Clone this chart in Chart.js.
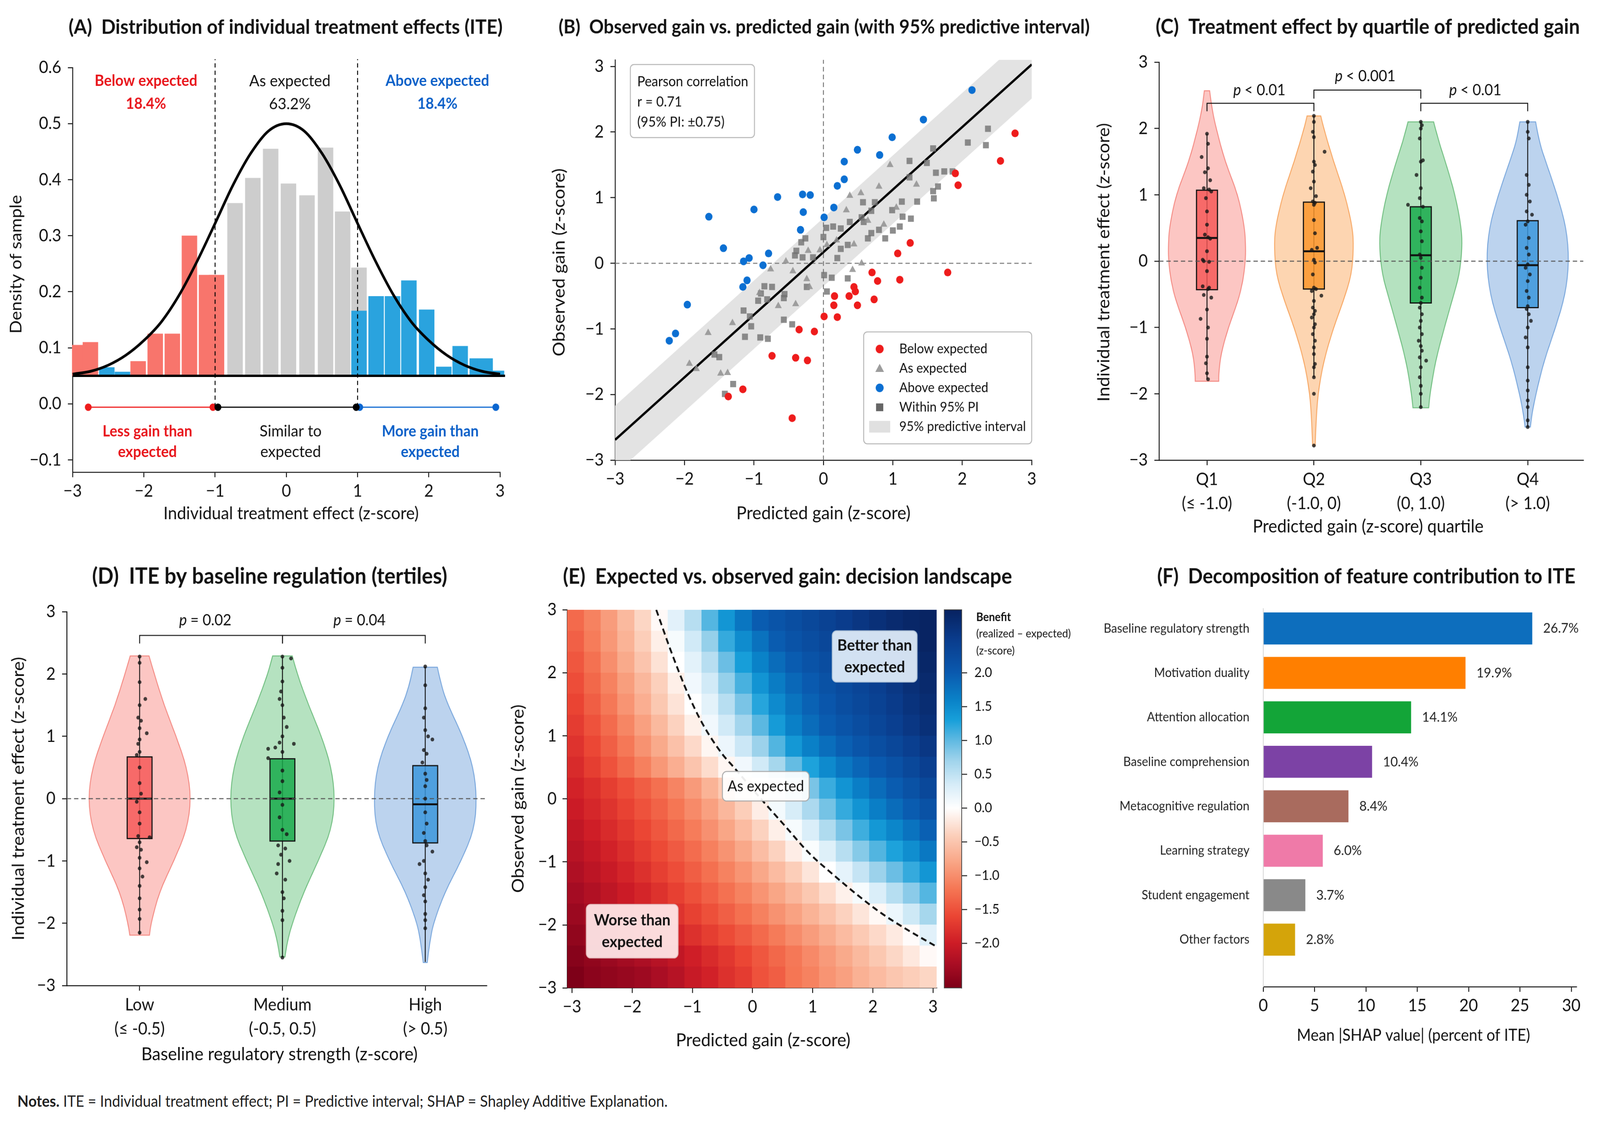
<!DOCTYPE html>
<html>
<head>
<meta charset="utf-8">
<title>Individual treatment effects</title>
<script src="https://cdn.jsdelivr.net/npm/chart.js@4.4.1/dist/chart.umd.min.js"></script>
<style>
  html, body { margin: 0; padding: 0; background: #fff; overflow: hidden; }
  #page { position: relative; width: 4409px; height: 2887px; overflow: hidden; background: #fff; transform-origin: 0 0; }
  canvas { position: absolute; }
  #notes { position: absolute; left: 48px; font-family: Lato, 'Noto Sans', sans-serif; color: #222; white-space: nowrap; }
</style>
</head>
<body>
<div id="page">
  <canvas id="chartA"></canvas>
  <canvas id="chartB"></canvas>
  <canvas id="chartC"></canvas>
  <canvas id="chartD"></canvas>
  <canvas id="chartE"></canvas>
  <canvas id="chartBar"></canvas>
  <canvas id="chartF"></canvas>
  <div id="notes"><b>Notes.</b> ITE = Individual treatment effect; PI = Predictive interval; SHAP = Shapley Additive Explanation.</div>
</div>
<script>
// ---------- (A) distribution of ITE ----------
const iteTicks = [-3, -2, -1, 0, 1, 2, 3];
const densityTicks = [-0.1, 0, 0.1, 0.2, 0.3, 0.4, 0.5, 0.6];
const histBase = 0.05;
const redBinX = [-2.90, -2.75, -2.08, -1.84, -1.60, -1.36, -1.12, -0.98];
const redBinTop = [0.105, 0.110, 0.076, 0.125, 0.125, 0.300, 0.230, 0.230];
const grayBinX = [-0.72, -0.47, -0.22, 0.03, 0.29, 0.55, 0.79, 1.02];
const grayBinTop = [0.358, 0.403, 0.455, 0.393, 0.372, 0.457, 0.343, 0.243];
const blueBinX = [-2.52, -2.30, 1.02, 1.26, 1.49, 1.72, 1.97, 2.21, 2.44, 2.68, 2.79, 2.95];
const blueBinTop = [0.065, 0.057, 0.166, 0.192, 0.192, 0.220, 0.168, 0.066, 0.103, 0.081, 0.081, 0.059];
const normalX = [-3, -2.75, -2.5, -2.25, -2, -1.75, -1.5, -1.25, -1, -0.75, -0.5, -0.25, 0, 0.25, 0.5, 0.75, 1, 1.25, 1.5, 1.75, 2, 2.25, 2.5, 2.75, 3, 3.07];
const normalY = [0.053, 0.058, 0.069, 0.087, 0.113, 0.147, 0.195, 0.255, 0.322, 0.390, 0.447, 0.487, 0.500, 0.487, 0.447, 0.390, 0.322, 0.255, 0.195, 0.147, 0.113, 0.087, 0.069, 0.058, 0.053, 0.052];
const cutoffs = [-1, 1];
const rangeRowY = -0.006;
const lessRange = [-2.78, -1.03];
const similarRange = [-0.96, 0.98];
const moreRange = [1.03, 2.94];

// ---------- (B) observed vs predicted ----------
const gainTicks = [-3, -2, -1, 0, 1, 2, 3];
const belowExpected = [[2.76, 1.98], [2.55, 1.56], [1.94, 1.19], [1.90, 1.37], [1.25, 0.31], [1.07, 0.15], [1.79, -0.14], [0.70, -0.14], [0.78, -0.27], [1.10, -0.25], [0.44, -0.36], [0.46, -0.43], [0.37, -0.50], [0.16, -0.50], [0.73, -0.55], [0.49, -0.64], [0.15, -0.64], [0.01, -0.81], [0.20, -0.82], [-0.35, -1.01], [-0.13, -1.04], [-0.74, -1.41], [-0.40, -1.44], [-0.23, -1.48], [-1.16, -1.92], [-1.37, -2.03], [-0.45, -2.36]];
const aboveExpected = [[2.14, 2.64], [1.44, 2.19], [0.99, 1.92], [0.49, 1.73], [0.81, 1.65], [0.30, 1.55], [0.30, 1.28], [0.20, 1.18], [0.15, 0.85], [0.01, 0.70], [-0.66, 1.01], [-0.30, 1.05], [-0.19, 1.04], [-0.29, 0.78], [-1.00, 0.82], [-1.65, 0.71], [-0.33, 0.51], [-0.79, 0.15], [-1.44, 0.23], [-1.07, 0.08], [-1.15, 0.03], [-0.87, -0.03], [-1.10, -0.26], [-1.16, -0.36], [-1.96, -0.63], [-2.13, -1.07], [-2.22, -1.18]];
const asExpected = [[0.96, 1.50], [0.80, 1.17], [0.38, 1.03], [0.54, 1.07], [0.33, 0.81], [1.34, 1.20], [0.87, 0.59], [0.44, 0.29], [0.55, 0.00], [0.42, -0.10], [0.19, 0.35], [0.05, 0.28], [-0.22, 0.19], [-0.54, 0.03], [-0.76, -0.09], [-0.44, -0.12], [-0.24, -0.24], [-0.20, -0.36], [-0.92, -0.45], [-0.65, -0.65], [-0.40, -0.62], [-1.31, -0.91], [-1.66, -1.06], [-1.93, -1.53], [-1.83, -1.61], [-1.48, -1.68], [-1.38, -1.67], [0.64, 0.65], [1.05, 0.85], [-0.05, 0.20]];
const withinPI = [[2.37, 2.05], [2.08, 1.84], [2.34, 1.80], [1.58, 1.75], [1.24, 1.56], [1.49, 1.53], [1.62, 1.38], [1.74, 1.40], [1.86, 1.40], [1.65, 1.17], [1.58, 1.10], [1.59, 0.99], [1.35, 0.94], [1.13, 0.94], [1.24, 1.31], [0.57, 0.93], [0.74, 0.93], [0.99, 0.81], [1.14, 0.71], [1.26, 0.68], [1.10, 0.56], [0.69, 0.80], [0.55, 0.70], [0.58, 0.63], [0.69, 0.46], [0.64, 0.38], [0.89, 0.38], [1.00, 0.50], [0.80, 0.51], [0.14, 0.56], [0.04, 0.54], [0.25, 0.53], [0.38, 0.63], [0.00, 0.40], [0.25, 0.22], [0.35, 0.28], [0.20, 0.08], [0.01, -0.18], [0.12, -0.22], [0.35, -0.23], [0.05, -0.43], [-0.26, 0.38], [-0.32, 0.32], [-0.39, 0.19], [-0.15, 0.09], [-0.41, 0.12], [-0.30, 0.09], [-0.24, -0.36], [-0.57, -0.53], [-0.74, -0.36], [-0.85, -0.35], [-0.90, -0.46], [-0.94, -0.57], [-0.81, -0.55], [-0.56, -0.47], [-0.57, -0.86], [-0.45, -0.93], [-1.15, -0.72], [-1.06, -0.81], [-1.04, -0.96], [-1.13, -1.12], [-0.91, -1.13], [-0.80, -1.15], [-1.57, -1.39], [-1.50, -1.43], [-1.42, -1.99], [-1.30, -1.84]];
const fitX = [-3, 3];
const fitY = [-2.69, 3.03];
const piUpper = [-2.17, 3.55];
const piLower = [-3.21, 2.51];
const legendLabelsB = ['Below expected', 'As expected', 'Above expected', 'Within 95% PI', '95% predictive interval'];

// ---------- (C) quartiles of predicted gain ----------
const quartileLabels = [['Q1', '(\u2264 -1.0)'], ['Q2', '(-1.0, 0)'], ['Q3', '(0, 1.0)'], ['Q4', '(> 1.0)']];
const quartileViolinY = [
  [2.57, 2.3, 2.0, 1.5, 1.0, 0.5, 0.2, 0.0, -0.3, -0.6, -1.0, -1.4, -1.7, -1.81],
  [2.19, 2.0, 1.5, 1.0, 0.5, 0.2, -0.2, -0.6, -1.0, -1.5, -2.0, -2.5, -2.78],
  [2.10, 1.8, 1.5, 1.0, 0.5, 0.2, -0.2, -0.6, -1.0, -1.5, -2.0, -2.21],
  [2.10, 1.8, 1.5, 1.0, 0.5, 0.0, -0.5, -1.0, -1.5, -2.0, -2.3, -2.5]
];
const quartileViolinW = [
  [0.025, 0.046, 0.086, 0.169, 0.291, 0.353, 0.362, 0.359, 0.337, 0.291, 0.199, 0.13, 0.11, 0.11],
  [0.064, 0.092, 0.184, 0.291, 0.362, 0.371, 0.353, 0.276, 0.184, 0.092, 0.037, 0.018, 0.012],
  [0.12, 0.169, 0.23, 0.322, 0.38, 0.387, 0.362, 0.291, 0.221, 0.138, 0.086, 0.074],
  [0.074, 0.107, 0.169, 0.276, 0.362, 0.387, 0.353, 0.261, 0.153, 0.077, 0.04, 0.025]
];
const quartileQ1 = [-0.43, -0.42, -0.63, -0.70];
const quartileMedian = [0.35, 0.15, 0.09, -0.06];
const quartileQ3 = [1.07, 0.89, 0.82, 0.61];
const quartileWhiskerLo = [-1.78, -1.75, -2.2, -2.5];
const quartileWhiskerHi = [1.92, 2.19, 2.1, 2.1];
const quartilePoints = [
  [[0, 1.92], [0.01, 1.77], [-0.05, 1.57], [0.01, 1.40], [-0.02, 1.34], [0.03, 1.22], [-0.03, 1.10], [0.02, 1.08], [0.04, 1.05], [-0.01, 0.95], [0, 0.75], [0, 0.55], [-0.02, 0.40], [0.01, 0.36], [0.03, 0.34], [0, 0.15], [-0.04, 0.02], [-0.03, 0], [0.02, -0.01], [0, -0.15], [-0.04, -0.38], [0.02, -0.40], [0.01, -0.42], [-0.03, -0.51], [0.04, -0.55], [0, -0.73], [-0.06, -0.87], [0.01, -1.00], [0, -1.17], [0, -1.44], [-0.01, -1.54], [0, -1.69], [0.01, -1.78]],
  [[0, 2.19], [0, 2.1], [-0.01, 1.95], [0, 1.87], [0.1, 1.65], [0, 1.5], [0.01, 1.45], [-0.01, 1.35], [0, 1.2], [-0.03, 1.1], [0.02, 0.98], [-0.01, 0.9], [0.01, 0.88], [0, 0.85], [0, 0.62], [0.01, 0.42], [0.03, 0.2], [-0.02, 0.17], [0, 0.02], [0.01, -0.02], [-0.01, -0.2], [0, -0.4], [0.02, -0.42], [-0.02, -0.45], [0.07, -0.52], [0, -0.6], [-0.01, -0.7], [0.01, -0.75], [0, -0.8], [-0.02, -0.85], [0.01, -0.95], [0, -1.0], [-0.01, -1.1], [0.01, -1.2], [0, -1.3], [0, -1.4], [0.01, -1.55], [0, -1.6], [0, -1.75], [0, -2.0], [0, -2.78]],
  [[0, 2.1], [0.01, 2.05], [0, 2.0], [-0.01, 1.85], [0.02, 1.52], [0, 1.5], [-0.04, 1.3], [0, 1.1], [-0.01, 0.95], [-0.12, 0.85], [0.02, 0.82], [-0.01, 0.65], [0.01, 0.6], [0, 0.45], [0.01, 0.3], [-0.01, 0.1], [0, 0.05], [0.01, -0.1], [0, -0.25], [-0.01, -0.4], [0.01, -0.55], [0, -0.63], [-0.01, -0.7], [0.01, -0.8], [0, -0.9], [-0.01, -1.0], [0.01, -1.1], [-0.02, -1.2], [0, -1.28], [0.01, -1.35], [-0.01, -1.45], [0.05, -1.5], [0, -1.6], [-0.01, -1.75], [0, -1.88], [0, -2.0], [0, -2.2]],
  [[0, 2.1], [0, 1.95], [0.01, 1.85], [-0.01, 1.3], [0.01, 1.15], [-0.01, 1.0], [0.02, 0.9], [-0.01, 0.75], [0.04, 0.7], [0, 0.6], [-0.02, 0.55], [0.01, 0.35], [-0.01, 0.2], [0.01, 0.1], [0, -0.05], [-0.02, -0.1], [0.02, -0.2], [0, -0.3], [-0.01, -0.45], [0.01, -0.55], [0, -0.68], [-0.01, -0.72], [0.01, -0.8], [0.03, -0.9], [0, -1.0], [-0.02, -1.15], [0, -1.3], [0, -1.6], [0, -1.8], [0, -1.95], [0, -2.1], [0, -2.2], [0, -2.4], [0, -2.5]]
];
const quartileTests = [
  { a: 0, b: 1, y: 2.38, drop: 0.12, label: '< 0.01', tx: 0.49, ty: 2.58 },
  { a: 1, b: 2, y: 2.58, drop: 0.13, label: '< 0.001', tx: 1.48, ty: 2.79 },
  { a: 2, b: 3, y: 2.38, drop: 0.12, label: '< 0.01', tx: 2.51, ty: 2.58 }
];
const iteTicksY = [-3, -2, -1, 0, 1, 2, 3];

// ---------- (D) tertiles of baseline regulation ----------
const tertileLabels = [['Low', '(\u2264 -0.5)'], ['Medium', '(-0.5, 0.5)'], ['High', '(> 0.5)']];
const tertileViolinY = [
  [2.29, 2.0, 1.5, 1.0, 0.5, 0.0, -0.5, -1.0, -1.5, -2.0, -2.19],
  [2.29, 2.0, 1.5, 1.0, 0.5, 0.0, -0.5, -1.0, -1.5, -2.0, -2.3, -2.54],
  [2.11, 1.8, 1.5, 1.0, 0.5, 0.0, -0.5, -1.0, -1.5, -2.0, -2.3, -2.63]
];
const tertileViolinW = [
  [0.066, 0.103, 0.171, 0.256, 0.331, 0.361, 0.331, 0.24, 0.137, 0.08, 0.069],
  [0.069, 0.103, 0.183, 0.274, 0.343, 0.368, 0.343, 0.251, 0.149, 0.069, 0.034, 0.018],
  [0.085, 0.114, 0.16, 0.263, 0.338, 0.361, 0.343, 0.251, 0.137, 0.057, 0.032, 0.014]
];
const tertileQ1 = [-0.64, -0.68, -0.71];
const tertileMedian = [0.0, 0.0, -0.09];
const tertileQ3 = [0.67, 0.64, 0.53];
const tertileWhiskerLo = [-2.18, -2.55, -2.62];
const tertileWhiskerHi = [2.28, 2.28, 2.12];
const tertilePoints = [
  [[0, 2.28], [0, 2.18], [0, 1.87], [0.04, 1.6], [0, 1.5], [-0.01, 1.3], [0.01, 1.25], [0, 1.13], [0.05, 1.05], [0, 0.95], [-0.01, 0.88], [0, 0.75], [-0.02, 0.7], [0, 0.5], [0, 0.25], [0.01, 0.08], [-0.02, -0.05], [0, -0.22], [0, -0.4], [-0.01, -0.6], [0.07, -0.62], [0, -0.7], [-0.02, -0.78], [0.01, -0.82], [0, -0.95], [0.05, -1.02], [0, -1.12], [0.02, -1.25], [0, -1.4], [0, -1.6], [0, -1.78], [0, -1.93], [0, -2.15]],
  [[0, 2.28], [0.06, 2.25], [0, 2.1], [0, 1.88], [-0.01, 1.72], [-0.02, 1.6], [0, 1.5], [0.01, 1.3], [0.03, 1.15], [0, 1.0], [-0.02, 0.9], [0.08, 0.88], [-0.05, 0.82], [-0.1, 0.8], [0, 0.75], [-0.1, 0.65], [0, 0.45], [0, 0.28], [-0.02, 0.1], [0, -0.1], [-0.02, -0.3], [0, -0.5], [0.03, -0.57], [-0.03, -0.75], [0.02, -0.8], [-0.01, -0.9], [0.05, -1.0], [-0.03, -1.05], [-0.04, -1.2], [0.02, -1.3], [0, -1.5], [0.01, -1.6], [0, -1.8], [0, -1.95], [0, -2.55]],
  [[0, 2.12], [0, 1.82], [0, 1.45], [-0.01, 1.3], [0, 1.1], [0.02, 1.0], [0.05, 0.95], [-0.01, 0.78], [0.01, 0.72], [-0.02, 0.58], [0, 0.4], [0.01, 0.3], [0, 0.2], [0, 0.0], [0, -0.22], [0.01, -0.4], [-0.01, -0.55], [0, -0.68], [0.01, -0.75], [0.05, -0.85], [-0.01, -1.0], [-0.04, -1.05], [0, -1.2], [0.02, -1.3], [0, -1.42], [-0.01, -1.55], [0, -1.65], [0, -1.85], [0, -1.95], [0, -2.08]]
];
const tertileTests = [
  { a: 0, b: 1, y: 2.62, drop: 0.13, label: '= 0.02', tx: 0.46, ty: 2.86 },
  { a: 1, b: 2, y: 2.62, drop: 0.13, label: '= 0.04', tx: 1.54, ty: 2.86 }
];

// ---------- (E) decision landscape ----------
const heatXRange = [-3.08, 3.06];
const heatYRange = [-3, 3];
// rows from top (observed gain = 3) to bottom (observed gain = -3), columns left to right
const benefitGrid = [
  [-1.30, -1.10, -0.88, -0.62, -0.35, -0.05, 0.25, 0.55, 1.05, 1.40, 1.72, 1.98, 2.10, 2.20, 2.30, 2.40, 2.50, 2.60, 2.70, 2.78, 2.85, 2.90],
  [-1.38, -1.15, -0.92, -0.68, -0.42, -0.14, 0.08, 0.38, 0.75, 1.18, 1.50, 1.76, 1.98, 2.12, 2.22, 2.32, 2.42, 2.52, 2.62, 2.72, 2.82, 2.90],
  [-1.46, -1.24, -1.00, -0.76, -0.51, -0.25, 0.00, 0.24, 0.55, 0.95, 1.32, 1.60, 1.82, 1.98, 2.12, 2.22, 2.32, 2.42, 2.52, 2.62, 2.75, 2.85],
  [-1.54, -1.32, -1.10, -0.87, -0.64, -0.40, -0.14, 0.12, 0.38, 0.75, 1.10, 1.42, 1.66, 1.86, 2.00, 2.14, 2.25, 2.35, 2.45, 2.57, 2.70, 2.80],
  [-1.62, -1.40, -1.18, -0.95, -0.72, -0.48, -0.24, 0.00, 0.24, 0.55, 0.88, 1.24, 1.52, 1.74, 1.92, 2.06, 2.20, 2.30, 2.40, 2.52, 2.65, 2.75],
  [-1.70, -1.50, -1.29, -1.07, -0.85, -0.62, -0.38, -0.13, 0.12, 0.38, 0.68, 1.02, 1.35, 1.62, 1.82, 1.98, 2.10, 2.22, 2.33, 2.45, 2.58, 2.70],
  [-1.78, -1.59, -1.39, -1.18, -0.97, -0.76, -0.54, -0.32, -0.08, 0.16, 0.42, 0.72, 1.06, 1.38, 1.62, 1.80, 1.95, 2.08, 2.20, 2.32, 2.45, 2.58],
  [-1.86, -1.68, -1.50, -1.31, -1.12, -0.92, -0.72, -0.51, -0.30, -0.08, 0.12, 0.38, 0.66, 0.98, 1.28, 1.52, 1.72, 1.88, 2.02, 2.15, 2.30, 2.45],
  [-1.94, -1.82, -1.68, -1.54, -1.40, -1.25, -1.08, -0.90, -0.68, -0.45, -0.18, 0.06, 0.30, 0.58, 0.88, 1.16, 1.42, 1.64, 1.82, 1.98, 2.14, 2.30],
  [-2.02, -1.90, -1.77, -1.64, -1.50, -1.36, -1.20, -1.03, -0.85, -0.64, -0.42, -0.15, 0.10, 0.34, 0.62, 0.90, 1.18, 1.42, 1.64, 1.82, 1.98, 2.14],
  [-2.10, -1.98, -1.86, -1.73, -1.60, -1.46, -1.31, -1.15, -0.98, -0.80, -0.60, -0.38, -0.14, 0.08, 0.32, 0.60, 0.88, 1.14, 1.38, 1.56, 1.75, 1.94],
  [-2.18, -2.07, -1.95, -1.83, -1.70, -1.57, -1.43, -1.28, -1.12, -0.96, -0.78, -0.58, -0.38, -0.15, 0.04, 0.28, 0.55, 0.82, 1.06, 1.28, 1.48, 1.70],
  [-2.26, -2.15, -2.04, -1.92, -1.80, -1.67, -1.54, -1.40, -1.25, -1.10, -0.95, -0.78, -0.60, -0.42, -0.22, 0.00, 0.22, 0.46, 0.72, 0.95, 1.18, 1.40],
  [-2.34, -2.24, -2.13, -2.02, -1.91, -1.79, -1.66, -1.52, -1.38, -1.24, -1.10, -0.95, -0.80, -0.64, -0.48, -0.30, -0.12, 0.08, 0.32, 0.56, 0.80, 1.05],
  [-2.42, -2.33, -2.23, -2.13, -2.02, -1.90, -1.78, -1.65, -1.52, -1.39, -1.25, -1.11, -0.97, -0.83, -0.68, -0.53, -0.38, -0.22, -0.06, 0.16, 0.40, 0.66],
  [-2.50, -2.42, -2.33, -2.24, -2.14, -2.03, -1.92, -1.80, -1.68, -1.56, -1.43, -1.30, -1.16, -1.02, -0.88, -0.74, -0.60, -0.46, -0.32, -0.18, -0.03, 0.26],
  [-2.58, -2.50, -2.43, -2.36, -2.28, -2.20, -2.10, -1.98, -1.86, -1.74, -1.60, -1.46, -1.32, -1.18, -1.04, -0.90, -0.76, -0.62, -0.48, -0.34, -0.20, -0.05],
  [-2.65, -2.55, -2.50, -2.45, -2.40, -2.30, -2.20, -2.05, -1.95, -1.80, -1.70, -1.50, -1.40, -1.20, -1.10, -0.95, -0.85, -0.70, -0.60, -0.50, -0.42, -0.35]
];
const expectedCurveX = [-1.60, -1.35, -1.07, -0.83, -0.51, -0.31, 0.14, 0.54, 0.94, 1.35, 1.75, 2.15, 2.56, 3.05];
const expectedCurveY = [3.0, 2.33, 1.66, 1.19, 0.72, 0.50, 0.0, -0.43, -0.86, -1.21, -1.53, -1.82, -2.07, -2.34];
const benefitRange = [-2.66, 2.93];
const benefitTicks = [-2, -1.5, -1, -0.5, 0, 0.5, 1, 1.5, 2];
const benefitStops = [
  [-2.66, [125, 0, 24]], [-2.3, [170, 14, 36]], [-2.0, [205, 28, 38]], [-1.6, [235, 70, 52]],
  [-1.2, [245, 118, 84]], [-0.8, [249, 166, 134]], [-0.4, [252, 208, 188]], [0.0, [255, 255, 255]],
  [0.35, [214, 236, 248]], [0.7, [160, 212, 236]], [1.0, [96, 186, 226]], [1.3, [24, 160, 218]],
  [1.6, [10, 130, 200]], [2.0, [10, 90, 175]], [2.5, [10, 60, 140]], [2.93, [8, 34, 96]]
];

// ---------- (F) SHAP decomposition ----------
const featureNames = ['Baseline regulatory strength', 'Motivation duality', 'Attention allocation', 'Baseline comprehension', 'Metacognitive regulation', 'Learning strategy', 'Student engagement', 'Other factors'];
const shapValues = [26.2, 19.7, 14.4, 10.6, 8.3, 5.8, 4.1, 3.1];
const shapLabels = ['26.7%', '19.9%', '14.1%', '10.4%', '8.4%', '6.0%', '3.7%', '2.8%'];
const shapTicks = [0, 5, 10, 15, 20, 25, 30];

// ---------- styling & layout ----------
const FONT = "Lato, 'Noto Sans', sans-serif";
const INK = '#111';
const RED_TXT = '#e8151b';
const BLUE_TXT = '#0a5fc8';
const EDGE = 4;
const MINUS = '\u2212';
const fmt = (v, d) => (v < -1e-9 ? MINUS : '') + Math.abs(v).toFixed(d);
const PAGE_W = 4409, PAGE_H = 2887;

// stretch the layout over the viewport the browser really gives us
const sx = window.innerWidth / PAGE_W, sy = window.innerHeight / PAGE_H;
if (sx > 0 && sy > 0 && (Math.abs(sx - 1) > 0.001 || Math.abs(sy - 1) > 0.001)) {
  document.getElementById('page').style.transform = `scale(${sx}, ${sy})`;
}

// font sizes chosen so that strings take the width they take in the figure
const probe = document.createElement('canvas').getContext('2d');
function fitPx(text, target, weight) {
  probe.font = `normal ${weight || 'normal'} 100px ${FONT}`;
  return 100 * target / probe.measureText(text).width;
}
const TITLES = {
  A: ['(A)  Distribution of individual treatment effects (ITE)', 1196],
  B: ['(B)  Observed gain vs. predicted gain (with 95% predictive interval)', 1464],
  C: ['(C)  Treatment effect by quartile of predicted gain', 1169],
  D: ['(D)  ITE by baseline regulation (tertiles)', 979],
  E: ['(E)  Expected vs. observed gain: decision landscape', 1238],
  F: ['(F)  Decomposition of feature contribution to ITE', 1153]
};
const XLABELS = {
  A: ['Individual treatment effect (z-score)', 704],
  B: ['Predicted gain (z-score)', 480],
  C: ['Predicted gain (z-score) quartile', 636],
  D: ['Baseline regulatory strength (z-score)', 762],
  E: ['Predicted gain (z-score)', 481],
  F: ['Mean |SHAP value| (percent of ITE)', 643]
};
const titlePx = {}, labelPx = {};
Object.keys(TITLES).forEach(k => {
  titlePx[k] = fitPx(TITLES[k][0], TITLES[k][1], 'bold');
  labelPx[k] = fitPx(XLABELS[k][0], XLABELS[k][1]);
});
const PX = {
  tick: fitPx('(-1.0, 0)', 149),
  annotBold: fitPx('Below expected', 283, 'bold'),
  annot: fitPx('As expected', 224),
  legend: fitPx('Below expected', 243),
  pearson: fitPx('Pearson correlation', 306),
  pval: fitPx('p < 0.01', 146),
  feature: fitPx('Baseline regulatory strength', 402),
  value: fitPx('26.7%', 98),
  boxBold: fitPx('Better than', 206, 'bold'),
  box: fitPx('As expected', 211),
  cbTick: fitPx('\u22120.5', 69),
  cbTitle: fitPx('(realized \u2013 expected)', 261),
  notes: fitPx('Notes. ITE = Individual treatment effect; PI = Predictive interval; SHAP = Shapley Additive Explanation.', 1794)
};
const notesEl = document.getElementById('notes');
notesEl.style.fontSize = PX.notes + 'px';
notesEl.style.lineHeight = (PX.notes * 1.3) + 'px';
notesEl.style.top = (2834 - PX.notes * 0.65) + 'px';

// canvas rect [x, y, w, h] and plot area [left, top, right, bottom], page pixels
const RECT_A = [0, 0, 1450, 1400], AREA_A = [200, 174, 1378, 1215];
const RECT_B = [1420, 0, 1700, 1400], AREA_B = [1695, 154, 2843, 1184];
const RECT_C = [2990, 0, 1419, 1400], AREA_C = [3194, 160, 4363, 1184];
const RECT_D = [0, 1400, 1450, 1400], AREA_D = [184, 1574, 1341, 2536];
const RECT_E = [1380, 1400, 1440, 1400], AREA_E = [1563, 1569, 2581, 2542];
const RECT_CB = [2570, 1400, 440, 1400], AREA_CB = [2602, 1569, 2650, 2542];
const RECT_F = [3000, 1400, 1409, 1400], AREA_F = [3481, 1566, 4344, 2539];

Chart.defaults.font.family = FONT;
Chart.defaults.color = INK;

function place(id, rect) {
  const c = document.getElementById(id);
  c.width = rect[2];
  c.height = rect[3];
  c.style.left = rect[0] + 'px';
  c.style.top = rect[1] + 'px';
  return c;
}

// options whose plot area lands on `area`; axis boxes are sized so their labels are not clipped
function framed(rect, area, scales, yRight) {
  const [x, y, w, h] = rect, [L, T, R, B] = area;
  const padding = yRight
    ? { left: L - x, top: T - y, right: EDGE, bottom: y + h - B }
    : { left: EDGE, top: T - y, right: x + w - R, bottom: EDGE };
  const yWidth = yRight ? x + w - R - EDGE : L - x - EDGE;
  const xHeight = y + h - B - EDGE;
  Object.values(scales).forEach(s => {
    if (s.display === false) return;
    s.afterFit = sc => { if (sc.isHorizontal()) sc.height = xHeight; else sc.width = yWidth; };
  });
  return {
    responsive: false, animation: false, devicePixelRatio: 1, events: [],
    layout: { padding, autoPadding: false },
    plugins: { legend: { display: false }, tooltip: { enabled: false }, title: { display: false } },
    scales
  };
}

function axis(min, max, values, label, extra = {}) {
  return Object.assign({
    type: 'linear', min, max, offset: false,
    afterBuildTicks: s => { s.ticks = values.map(v => ({ value: v })); },
    grid: { display: true, offset: false, drawOnChartArea: false, drawTicks: true, tickLength: 13, color: INK, lineWidth: 2.5 },
    border: { display: true, color: INK, width: 2.5 },
    ticks: { font: { size: PX.tick }, color: INK, padding: 9, maxRotation: 0, autoSkip: false, callback: label }
  }, extra);
}

function txt(ctx, s, x, y, o = {}) {
  ctx.save();
  ctx.font = `${o.style || 'normal'} ${o.weight || 'normal'} ${o.size || 40}px ${FONT}`;
  ctx.fillStyle = o.color || INK;
  ctx.textAlign = o.align || 'center';
  ctx.textBaseline = 'middle';
  ctx.translate(x, y);
  if (o.rot) ctx.rotate(o.rot);
  ctx.fillText(s, 0, 0);
  ctx.restore();
}

// "p < 0.01" with an italic p, centred on x
function pText(ctx, rest, x, y, size) {
  ctx.save();
  ctx.font = `italic normal ${size}px ${FONT}`;
  const wp = ctx.measureText('p ').width;
  ctx.font = `normal normal ${size}px ${FONT}`;
  const wr = ctx.measureText(rest).width;
  const x0 = x - (wp + wr) / 2;
  txt(ctx, 'p', x0, y, { style: 'italic', size, align: 'left' });
  txt(ctx, rest, x0 + wp, y, { size, align: 'left' });
  ctx.restore();
}

function roundBox(ctx, x0, y0, x1, y1, r, fill, stroke, lw) {
  ctx.save();
  ctx.beginPath();
  ctx.roundRect(x0, y0, x1 - x0, y1 - y0, r);
  ctx.fillStyle = fill;
  ctx.fill();
  ctx.strokeStyle = stroke;
  ctx.lineWidth = lw || 2.5;
  ctx.stroke();
  ctx.restore();
}

// panel title, x-axis title and (optional) y-axis title, all given in page pixels
function panelText(rect, key, tx, ty, xl, yl) {
  const items = [
    { t: TITLES[key][0], x: tx, y: ty, size: titlePx[key], weight: 'bold' },
    { t: XLABELS[key][0], x: xl[0], y: xl[1], size: labelPx[key] }
  ];
  if (yl) items.push({ t: yl[0], x: yl[1], y: yl[2], size: labelPx[key], rot: -Math.PI / 2 });
  return {
    id: 'panelText',
    afterDraw(chart) {
      items.forEach(it => txt(chart.ctx, it.t, it.x - rect[0], it.y - rect[1], it));
    }
  };
}

const pts = arr => arr.map(([x, y]) => ({ x, y }));
const xy = (xs, ys) => xs.map((x, i) => ({ x, y: ys[i] }));
const yTickStyle = (fn, pad) => ({ font: { size: PX.tick }, color: INK, padding: pad, autoSkip: false, callback: fn });

// ---------- chart A ----------
const annotA = [
  { t: 'Below expected', x: -1.97, y: 0.576, color: RED_TXT, weight: 'bold' },
  { t: '18.4%', x: -1.97, y: 0.535, color: RED_TXT, weight: 'bold' },
  { t: 'As expected', x: 0.05, y: 0.576 },
  { t: '63.2%', x: 0.05, y: 0.535 },
  { t: 'Above expected', x: 2.12, y: 0.576, color: BLUE_TXT, weight: 'bold' },
  { t: '18.4%', x: 2.12, y: 0.535, color: BLUE_TXT, weight: 'bold' },
  { t: 'Less gain than', x: -1.95, y: -0.049, color: RED_TXT, weight: 'bold' },
  { t: 'expected', x: -1.95, y: -0.086, color: RED_TXT, weight: 'bold' },
  { t: 'Similar to', x: 0.06, y: -0.049 },
  { t: 'expected', x: 0.06, y: -0.086 },
  { t: 'More gain than', x: 2.02, y: -0.049, color: BLUE_TXT, weight: 'bold' },
  { t: 'expected', x: 2.02, y: -0.086, color: BLUE_TXT, weight: 'bold' }
];
const rangeLine = (r, color, order) => ({
  type: 'line', data: r.map(x => ({ x, y: rangeRowY })), borderColor: color, backgroundColor: color,
  borderWidth: 3, pointRadius: 9.5, pointBorderWidth: 0, clip: false, order
});
new Chart(place('chartA', RECT_A), {
  type: 'bar',
  data: {
    datasets: [
      { type: 'line', data: xy(normalX, normalY), borderColor: '#000', borderWidth: 7, pointRadius: 0, cubicInterpolationMode: 'monotone', clip: false, order: 0 },
      { type: 'line', data: [{ x: -3, y: histBase }, { x: 3.07, y: histBase }], borderColor: '#000', borderWidth: 6, pointRadius: 0, clip: false, order: 1 },
      ...cutoffs.map(c => ({ type: 'line', data: [{ x: c, y: rangeRowY }, { x: c, y: 0.615 }], borderColor: '#000', borderWidth: 2.5, borderDash: [11, 8], pointRadius: 0, clip: false, order: 2 })),
      rangeLine(lessRange, '#ee1c1c', 4),
      rangeLine(moreRange, '#0b66d0', 4),
      rangeLine(similarRange, '#000', 3),
      { data: blueBinX.map((x, i) => ({ x, y: [histBase, blueBinTop[i]] })), backgroundColor: '#2aa3de', grouped: false, barThickness: 42, borderWidth: 0, clip: false, order: 5 },
      { data: redBinX.map((x, i) => ({ x, y: [histBase, redBinTop[i]] })), backgroundColor: '#f8756c', grouped: false, barThickness: 42, borderWidth: 0, clip: false, order: 6 },
      { data: grayBinX.map((x, i) => ({ x, y: [histBase, grayBinTop[i]] })), backgroundColor: '#cdcdcd', grouped: false, barThickness: 42, borderWidth: 0, clip: false, order: 7 }
    ]
  },
  options: framed(RECT_A, AREA_A, {
    x: axis(-3, 3, iteTicks, v => fmt(v, 0), {}),
    y: axis(-0.122, 0.6, densityTicks, v => fmt(v, 1), { ticks: yTickStyle(v => fmt(v, 1), 18) })
  }),
  plugins: [
    {
      id: 'annotA',
      afterDatasetsDraw(chart) {
        const { ctx, scales: { x, y } } = chart;
        annotA.forEach(a => txt(ctx, a.t, x.getPixelForValue(a.x), y.getPixelForValue(a.y),
          Object.assign({ size: a.weight === 'bold' ? PX.annotBold : PX.annot }, a)));
      }
    },
    panelText(RECT_A, 'A', 787, 70, [802, 1321], ['Density of sample', 44, 680])
  ]
});

// ---------- chart B ----------
new Chart(place('chartB', RECT_B), {
  type: 'scatter',
  data: {
    datasets: [
      { data: pts(belowExpected), pointStyle: 'circle', pointRadius: 10, backgroundColor: '#ee1c1c', borderWidth: 0, order: 0 },
      { data: pts(aboveExpected), pointStyle: 'circle', pointRadius: 10, backgroundColor: '#0b6fd2', borderWidth: 0, order: 1 },
      { data: pts(asExpected), pointStyle: 'triangle', pointRadius: 11, backgroundColor: 'rgba(145,145,145,0.85)', borderWidth: 0, order: 2 },
      { data: pts(withinPI), pointStyle: 'rect', pointRadius: 11.5, backgroundColor: 'rgba(112,112,112,0.8)', borderWidth: 0, order: 3 },
      { data: xy(fitX, fitY), showLine: true, borderColor: '#000', borderWidth: 6, pointRadius: 0, order: 4 },
      { data: [{ x: 0, y: -3 }, { x: 0, y: 3.1 }], showLine: true, borderColor: '#777', borderWidth: 2.5, borderDash: [12, 8], pointRadius: 0, order: 5 },
      { data: [{ x: -3, y: 0 }, { x: 3, y: 0 }], showLine: true, borderColor: '#777', borderWidth: 2.5, borderDash: [12, 8], pointRadius: 0, order: 5 },
      { data: xy(fitX, piUpper), showLine: true, borderColor: 'rgba(0,0,0,0)', pointRadius: 0, fill: '+1', backgroundColor: '#e3e3e3', order: 6 },
      { data: xy(fitX, piLower), showLine: true, borderColor: 'rgba(0,0,0,0)', pointRadius: 0, order: 7 }
    ]
  },
  options: framed(RECT_B, AREA_B, {
    x: axis(-3, 3, gainTicks, v => fmt(v, 0), {}),
    y: axis(-3, 3.1, gainTicks, v => fmt(v, 0), { ticks: yTickStyle(v => fmt(v, 0), 18) })
  }),
  plugins: [
    {
      id: 'boxesB',
      afterDraw(chart) {
        const ctx = chart.ctx, ox = RECT_B[0], oy = RECT_B[1];
        // Pearson box
        roundBox(ctx, 1737 - ox, 166 - oy, 2079 - ox, 354 - oy, 10, 'rgba(255,255,255,0.95)', '#b5b5b5', 2.5);
        ['Pearson correlation', 'r = 0.71', '(95% PI: \u00b10.75)'].forEach((s, i) =>
          txt(ctx, s, 1756 - ox, 210 + i * 52 - oy, { size: PX.pearson, align: 'left' }));
        // legend
        roundBox(ctx, 2380 - ox, 854 - oy, 2843 - ox, 1142 - oy, 10, 'rgba(255,255,255,0.95)', '#b5b5b5', 2.5);
        const rowsY = [898, 948, 998, 1048, 1098];
        const mx = 2424 - ox;
        ctx.save();
        rowsY.forEach((py, i) => {
          const my = py - oy;
          ctx.beginPath();
          if (i === 0 || i === 2) {
            ctx.fillStyle = i === 0 ? '#ee1c1c' : '#0b6fd2';
            ctx.arc(mx, my, 11, 0, Math.PI * 2);
            ctx.fill();
          } else if (i === 1) {
            ctx.fillStyle = 'rgba(145,145,145,0.9)';
            ctx.moveTo(mx, my - 12); ctx.lineTo(mx + 12, my + 9); ctx.lineTo(mx - 12, my + 9); ctx.closePath();
            ctx.fill();
          } else if (i === 3) {
            ctx.fillStyle = '#666';
            ctx.fillRect(mx - 10, my - 10, 20, 20);
          } else {
            ctx.fillStyle = '#e0e0e0';
            ctx.fillRect(mx - 29, my - 15, 58, 30);
          }
          txt(ctx, legendLabelsB[i], 2478 - ox, my, { size: PX.legend, align: 'left' });
        });
        ctx.restore();
      }
    },
    panelText(RECT_B, 'B', 2271, 70, [2269, 1321], ['Observed gain (z-score)', 1541, 675])
  ]
});

// ---------- violin panels (C, D) ----------
function smoothSide(ctx, p, move) {
  if (move) ctx.moveTo(p[0][0], p[0][1]); else ctx.lineTo(p[0][0], p[0][1]);
  for (let i = 1; i < p.length - 1; i++) {
    const mx = (p[i][0] + p[i + 1][0]) / 2, my = (p[i][1] + p[i + 1][1]) / 2;
    ctx.quadraticCurveTo(p[i][0], p[i][1], mx, my);
  }
  ctx.lineTo(p[p.length - 1][0], p[p.length - 1][1]);
}

function violinPlugin(v) {
  return {
    id: 'violins',
    beforeDatasetsDraw(chart) {
      const { ctx, scales: { x, y }, chartArea } = chart;
      ctx.save();
      v.ys.forEach((ys, g) => {
        const ws = v.ws[g];
        const right = ys.map((val, k) => [x.getPixelForValue(g + ws[k]), y.getPixelForValue(val)]);
        const left = ys.map((val, k) => [x.getPixelForValue(g - ws[k]), y.getPixelForValue(val)]).reverse();
        ctx.beginPath();
        smoothSide(ctx, right, true);
        smoothSide(ctx, left, false);
        ctx.closePath();
        ctx.fillStyle = v.fill[g];
        ctx.fill();
        ctx.strokeStyle = v.edge[g];
        ctx.lineWidth = 2.5;
        ctx.stroke();
      });
      v.q1.forEach((q1, g) => {
        const cx = x.getPixelForValue(g);
        ctx.beginPath();
        ctx.moveTo(cx, y.getPixelForValue(v.lo[g]));
        ctx.lineTo(cx, y.getPixelForValue(v.hi[g]));
        ctx.strokeStyle = '#111';
        ctx.lineWidth = 2.5;
        ctx.stroke();
        const x0 = x.getPixelForValue(g - v.boxW), x1 = x.getPixelForValue(g + v.boxW);
        const yTop = y.getPixelForValue(v.q3[g]), yBot = y.getPixelForValue(q1);
        ctx.fillStyle = v.boxFill[g];
        ctx.fillRect(x0, yTop, x1 - x0, yBot - yTop);
        ctx.lineWidth = 3;
        ctx.strokeRect(x0, yTop, x1 - x0, yBot - yTop);
        const ym = y.getPixelForValue(v.med[g]);
        ctx.beginPath();
        ctx.moveTo(x0, ym);
        ctx.lineTo(x1, ym);
        ctx.lineWidth = 5;
        ctx.stroke();
      });
      const y0 = y.getPixelForValue(0);
      ctx.beginPath();
      ctx.setLineDash([12, 8]);
      ctx.moveTo(chartArea.left, y0);
      ctx.lineTo(chartArea.right, y0);
      ctx.strokeStyle = '#555';
      ctx.lineWidth = 2.5;
      ctx.stroke();
      ctx.restore();
    },
    afterDatasetsDraw(chart) {
      const { ctx, scales: { x, y } } = chart;
      ctx.save();
      ctx.strokeStyle = '#111';
      ctx.lineWidth = 2.5;
      v.tests.forEach(t => {
        const xa = x.getPixelForValue(t.a), xb = x.getPixelForValue(t.b);
        const yl = y.getPixelForValue(t.y), yd = y.getPixelForValue(t.y - t.drop);
        ctx.beginPath();
        ctx.moveTo(xa, yd); ctx.lineTo(xa, yl); ctx.lineTo(xb, yl); ctx.lineTo(xb, yd);
        ctx.stroke();
        pText(ctx, t.label, x.getPixelForValue(t.tx), y.getPixelForValue(t.ty), PX.pval);
      });
      ctx.restore();
    }
  };
}

const stripData = groups => groups.flatMap((g, i) => g.map(([dx, v]) => ({ x: i + dx, y: v })));
const groupTicks = labels => ({ font: { size: PX.tick, lineHeight: 62 / PX.tick }, color: INK, padding: 6, maxRotation: 0, autoSkip: false, callback: v => labels[v] });

new Chart(place('chartC', RECT_C), {
  type: 'scatter',
  data: { datasets: [{ data: stripData(quartilePoints), pointRadius: 5, backgroundColor: 'rgba(22,22,22,0.8)', borderWidth: 0 }] },
  options: framed(RECT_C, AREA_C, {
    x: axis(-0.448, 3.52, [0, 1, 2, 3], v => quartileLabels[v], { ticks: groupTicks(quartileLabels) }),
    y: axis(-3, 3, iteTicksY, v => fmt(v, 0), { ticks: yTickStyle(v => fmt(v, 0), 18) })
  }),
  plugins: [
    violinPlugin({
      ys: quartileViolinY, ws: quartileViolinW, q1: quartileQ1, q3: quartileQ3, med: quartileMedian,
      lo: quartileWhiskerLo, hi: quartileWhiskerHi, boxW: 0.098, tests: quartileTests,
      fill: ['rgba(248,120,112,0.42)', 'rgba(250,150,60,0.4)', 'rgba(60,180,90,0.38)', 'rgba(80,140,210,0.38)'],
      edge: ['rgba(240,110,100,0.75)', 'rgba(245,150,70,0.8)', 'rgba(70,170,90,0.7)', 'rgba(80,140,210,0.7)'],
      boxFill: ['rgba(245,85,85,0.82)', 'rgba(250,150,45,0.85)', 'rgba(25,170,75,0.85)', 'rgba(60,150,220,0.85)']
    }),
    panelText(RECT_C, 'C', 3769, 70, [3770, 1355], ['Individual treatment effect (z-score)', 3042, 675])
  ]
});

new Chart(place('chartD', RECT_D), {
  type: 'scatter',
  data: { datasets: [{ data: stripData(tertilePoints), pointRadius: 5, backgroundColor: 'rgba(22,22,22,0.8)', borderWidth: 0 }] },
  options: framed(RECT_D, AREA_D, {
    x: axis(-0.51, 2.43, [0, 1, 2], v => tertileLabels[v], { ticks: groupTicks(tertileLabels) }),
    y: axis(-3, 3, iteTicksY, v => fmt(v, 0), { ticks: yTickStyle(v => fmt(v, 0), 18) })
  }),
  plugins: [
    violinPlugin({
      ys: tertileViolinY, ws: tertileViolinW, q1: tertileQ1, q3: tertileQ3, med: tertileMedian,
      lo: tertileWhiskerLo, hi: tertileWhiskerHi, boxW: 0.087, tests: tertileTests,
      fill: ['rgba(248,120,112,0.42)', 'rgba(60,180,90,0.38)', 'rgba(80,140,210,0.38)'],
      edge: ['rgba(240,110,100,0.75)', 'rgba(70,170,90,0.7)', 'rgba(80,140,210,0.7)'],
      boxFill: ['rgba(245,85,85,0.82)', 'rgba(25,170,75,0.85)', 'rgba(60,150,220,0.85)']
    }),
    panelText(RECT_D, 'D', 743, 1484, [770, 2713], ['Individual treatment effect (z-score)', 51, 2055])
  ]
});

// ---------- chart E ----------
function benefitColor(v) {
  const s = benefitStops;
  if (v <= s[0][0]) return `rgb(${s[0][1].join(',')})`;
  for (let i = 1; i < s.length; i++) {
    if (v <= s[i][0]) {
      const t = (v - s[i - 1][0]) / (s[i][0] - s[i - 1][0]);
      const c = s[i - 1][1].map((a, k) => Math.round(a + t * (s[i][1][k] - a)));
      return `rgb(${c.join(',')})`;
    }
  }
  return `rgb(${s[s.length - 1][1].join(',')})`;
}

const labelBoxesE = [
  { lines: ['Better than', 'expected'], x: 2.03, y: 2.26, w: 234, h: 132, weight: 'bold', fill: 'rgba(226,238,250,0.93)', stroke: 'rgba(175,195,215,0.9)' },
  { lines: ['As expected'], x: 0.22, y: 0.2, w: 239, h: 76, weight: 'normal', fill: 'rgba(255,255,255,0.92)', stroke: '#a8a8a8' },
  { lines: ['Worse than', 'expected'], x: -2.0, y: -2.1, w: 253, h: 138, weight: 'bold', fill: 'rgba(255,233,233,0.93)', stroke: 'rgba(230,190,190,0.9)' }
];

new Chart(place('chartE', RECT_E), {
  type: 'scatter',
  data: {
    datasets: [{ data: xy(expectedCurveX, expectedCurveY), showLine: true, borderColor: '#111', borderWidth: 5, borderDash: [16, 10], pointRadius: 0, cubicInterpolationMode: 'monotone' }]
  },
  options: framed(RECT_E, AREA_E, {
    x: axis(heatXRange[0], heatXRange[1], gainTicks, v => fmt(v, 0), { border: { display: true, color: '#222', width: 2 } }),
    y: axis(heatYRange[0], heatYRange[1], gainTicks, v => fmt(v, 0), { border: { display: true, color: '#222', width: 2 }, ticks: yTickStyle(v => fmt(v, 0), 16) })
  }),
  plugins: [
    {
      id: 'heatmap',
      beforeDatasetsDraw(chart) {
        const { ctx, scales: { x, y }, chartArea } = chart;
        const nR = benefitGrid.length, nC = benefitGrid[0].length;
        const cw = (heatXRange[1] - heatXRange[0]) / nC, ch = (heatYRange[1] - heatYRange[0]) / nR;
        ctx.save();
        ctx.beginPath();
        ctx.rect(chartArea.left, chartArea.top, chartArea.right - chartArea.left, chartArea.bottom - chartArea.top);
        ctx.clip();
        benefitGrid.forEach((row, i) => row.forEach((v, j) => {
          const px0 = x.getPixelForValue(heatXRange[0] + j * cw), px1 = x.getPixelForValue(heatXRange[0] + (j + 1) * cw);
          const py0 = y.getPixelForValue(heatYRange[1] - i * ch), py1 = y.getPixelForValue(heatYRange[1] - (i + 1) * ch);
          ctx.fillStyle = benefitColor(v);
          ctx.fillRect(Math.floor(px0), Math.floor(py0), Math.ceil(px1 - px0) + 1, Math.ceil(py1 - py0) + 1);
        }));
        ctx.restore();
      },
      afterDatasetsDraw(chart) {
        const { ctx, scales: { x, y } } = chart;
        labelBoxesE.forEach(b => {
          const cx = x.getPixelForValue(b.x), cy = y.getPixelForValue(b.y);
          roundBox(ctx, cx - b.w / 2, cy - b.h / 2, cx + b.w / 2, cy + b.h / 2, 12, b.fill, b.stroke, 2.5);
          const lh = 56;
          const size = b.weight === 'bold' ? PX.boxBold : PX.box;
          b.lines.forEach((s, k) => txt(ctx, s, cx, cy + (k - (b.lines.length - 1) / 2) * lh, { size, weight: b.weight }));
        });
      }
    },
    panelText(RECT_E, 'E', 2170, 1484, [2103, 2677], ['Observed gain (z-score)', 1428, 2055])
  ]
});

// colour bar for E
new Chart(place('chartBar', RECT_CB), {
  type: 'scatter',
  data: { datasets: [] },
  options: framed(RECT_CB, AREA_CB, {
    x: { type: 'linear', display: false, min: 0, max: 1 },
    y: axis(benefitRange[0], benefitRange[1], benefitTicks, v => fmt(v, 1), {
      position: 'right',
      grid: { display: true, drawOnChartArea: false, drawTicks: true, tickLength: 15, color: '#222', lineWidth: 2.5 },
      border: { display: true, color: '#444', width: 2 },
      ticks: { font: { size: PX.cbTick }, color: INK, padding: 20, autoSkip: false, callback: v => fmt(v, 1) }
    })
  }, true),
  plugins: [
    {
      id: 'colorbar',
      beforeDraw(chart) {
        const { ctx, scales: { y }, chartArea: a } = chart;
        const g = ctx.createLinearGradient(0, a.bottom, 0, a.top);
        benefitStops.forEach(([v]) => {
          const t = (a.bottom - y.getPixelForValue(v)) / (a.bottom - a.top);
          g.addColorStop(Math.min(1, Math.max(0, t)), benefitColor(v));
        });
        ctx.save();
        ctx.fillStyle = g;
        ctx.fillRect(a.left, a.top, a.right - a.left, a.bottom - a.top);
        ctx.strokeStyle = '#444';
        ctx.lineWidth = 2;
        ctx.strokeRect(a.left, a.top, a.right - a.left, a.bottom - a.top);
        ctx.restore();
      },
      afterDraw(chart) {
        const ctx = chart.ctx, ox = RECT_CB[0], oy = RECT_CB[1];
        txt(ctx, 'Benefit', 2690 - ox, 1588 - oy, { size: PX.cbTitle * 1.02, weight: 'bold', align: 'left' });
        txt(ctx, '(realized \u2013 expected)', 2690 - ox, 1631 - oy, { size: PX.cbTitle, align: 'left' });
        txt(ctx, '(z-score)', 2690 - ox, 1675 - oy, { size: PX.cbTitle, align: 'left' });
      }
    }
  ]
});

// ---------- chart F ----------
new Chart(place('chartF', RECT_F), {
  type: 'bar',
  data: {
    datasets: [{
      data: shapValues.map((v, i) => ({ x: v, y: i })),
      backgroundColor: ['#0d6ebd', '#ff7f00', '#13a538', '#7c42a5', '#a96b5e', '#ef7aa8', '#898989', '#d4a40a'],
      borderWidth: 0, categoryPercentage: 0.8, barPercentage: 0.9
    }]
  },
  options: Object.assign(framed(RECT_F, AREA_F, {
    x: axis(0, 30.5, shapTicks, v => String(v), {}),
    y: axis(-0.446, 8.06, featureNames.map((_, i) => i), v => featureNames[v], {
      reverse: true,
      grid: { display: false },
      border: { display: true, color: '#d4d4d4', width: 2 },
      ticks: { font: { size: PX.feature }, color: '#222', padding: 30, autoSkip: false, callback: v => featureNames[v] }
    })
  }), { indexAxis: 'y' }),
  plugins: [
    {
      id: 'valueLabels',
      afterDatasetsDraw(chart) {
        const meta = chart.getDatasetMeta(0);
        meta.data.forEach((bar, i) => txt(chart.ctx, shapLabels[i], bar.x + 30, bar.y, { size: PX.value, align: 'left', color: '#222' }));
      }
    },
    panelText(RECT_F, 'F', 3765, 1484, [3895, 2665], null)
  ]
});
</script>
</body>
</html>
